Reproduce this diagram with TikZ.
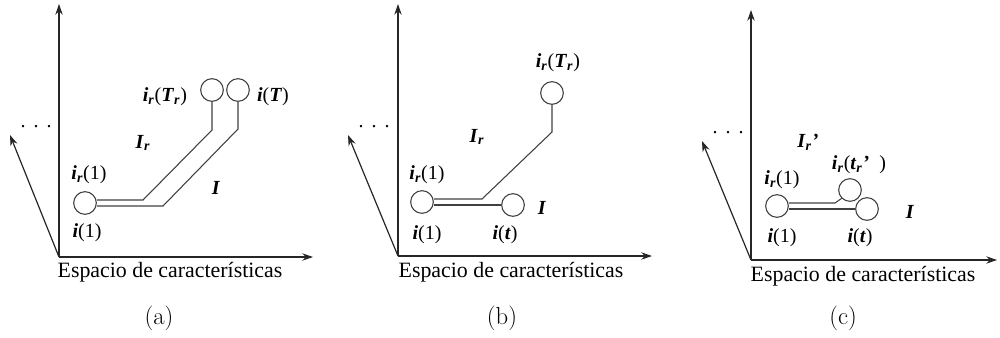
\documentclass[tikz,border=0pt]{standalone}
\usepackage{fontspec}
\newfontfamily\tnr{Liberation Serif}
\usetikzlibrary{arrows.meta,calc}
\newcommand{\bi}[1]{\textbf{\textit{#1}}}
\newcommand{\sbr}{\textsubscript{\bi{r}}}
\tikzset{
  axis/.style={line width=0.9pt, draw=black!85, -{Stealth[length=8pt,width=5.5pt]}},
  pnode/.style={circle, draw=black!75, line width=0.8pt, minimum size=17pt, inner sep=0pt},
  trail/.style={draw=black!75, line width=0.8pt},
  lbl/.style={font=\tnr\fontsize{15}{18}\selectfont, inner sep=0pt},
  captxt/.style={font=\tnr\fontsize{16.4}{20}\selectfont, inner sep=0pt},
  sublbl/.style={font=\fontsize{18.5}{22}\selectfont, inner sep=0pt},
  dotstxt/.style={font=\tnr\fontsize{15}{18}\selectfont, inner sep=0pt}
}
\begin{document}
\begin{tikzpicture}[x=0.75pt,y=-0.75pt]
\useasboundingbox (0,0) rectangle (1000,337);

% ---------- panel (a) ----------
\coordinate (oa) at (59,257);
\coordinate (va) at (59,4);
\coordinate (ha) at (313,257);
\coordinate (da) at (10,135);
\draw[axis] (oa) -- (va);
\draw[axis] (oa) -- (ha);
\draw[axis] (oa) -- (da);
\node[dotstxt] (dotsa) at (36,127) {.\hspace{6pt}.\hspace{6pt}.};
\node[pnode] (ca1) at (85,203) {};
\node[pnode] (car) at (212,90) {};
\node[pnode] (cat) at (238,90) {};
\coordinate (a1) at (143,200);
\coordinate (a2) at (212,130);
\coordinate (a3) at (163,206);
\coordinate (a4) at (238,129);
\draw[trail] ([yshift=2.25pt]ca1.east) -- (a1) -- (a2) -- (car.south);
\draw[trail] ([yshift=-2.25pt]ca1.east) -- (a3) -- (a4) -- (cat.south);
\node[lbl] (la1) at (165,97) {\bi{i}\sbr(\bi{T}\sbr)};
\node[lbl] (la2) at (273,97) {\bi{i}(\bi{T})};
\node[lbl] (la3) at (143,143) {\bi{I}\sbr};
\node[lbl] (la4) at (216,188) {\bi{I}};
\node[lbl] (la5) at (89,175) {\bi{i}\sbr(1)};
\node[lbl] (la6) at (87,233) {\bi{i}(1)};
\node[captxt] (capa) at (170,272) {Espacio de características};
\node[sublbl] (tla) at (159,318) {(a)};

% ---------- panel (b) ----------
\coordinate (ob) at (398,256);
\coordinate (vb) at (398,4);
\coordinate (hb) at (652,256);
\coordinate (db) at (348,135);
\draw[axis] (ob) -- (vb);
\draw[axis] (ob) -- (hb);
\draw[axis] (ob) -- (db);
\node[dotstxt] (dotsb) at (374,127) {.\hspace{6pt}.\hspace{6pt}.};
\node[pnode] (cb1) at (422,202) {};
\node[pnode] (cbt) at (513,205) {};
\node[pnode] (cbr) at (552,93) {};
\coordinate (b1) at (482,199);
\coordinate (b2) at (552,132);
\draw[trail] ([yshift=2.25pt]cb1.east) -- (b1) -- (b2) -- (cbr.south);
\draw[trail] ([yshift=-2.25pt]cb1.east) -- (cbt.west);
\node[lbl] (lb1) at (558,63) {\bi{i}\sbr(\bi{T}\sbr)};
\node[lbl] (lb2) at (477,137) {\bi{I}\sbr};
\node[lbl] (lb3) at (427,175) {\bi{i}\sbr(1)};
\node[lbl] (lb4) at (542,208) {\bi{I}};
\node[lbl] (lb5) at (427,235) {\bi{i}(1)};
\node[lbl] (lb6) at (505,235) {\bi{i}(\bi{t})};
\node[captxt] (capb) at (511,272) {Espacio de características};
\node[sublbl] (tlb) at (502,318) {(b)};

% ---------- panel (c) ----------
\coordinate (oc) at (751,260);
\coordinate (vc) at (751,10);
\coordinate (hc) at (997,260);
\coordinate (dc) at (702,141);
\draw[axis] (oc) -- (vc);
\draw[axis] (oc) -- (hc);
\draw[axis] (oc) -- (dc);
\node[dotstxt] (dotsc) at (728,133) {.\hspace{6pt}.\hspace{6pt}.};
\node[pnode] (cc1) at (777,206) {};
\node[pnode] (cct) at (850,190) {};
\node[pnode] (cci) at (867,209) {};
\coordinate (c1) at (835,203);
\draw[trail] ([yshift=2.25pt]cc1.east) -- (c1) -- (cct.south west);
\draw[trail] ([yshift=-2.25pt]cc1.east) -- (cci.west);
\node[lbl] (lc1) at (808,142) {\bi{I}\sbr\bi{’}};
\node[lbl] (lc2) at (859,165) {\bi{i}\sbr(\bi{t}\sbr\bi{’}\ \ )};
\node[lbl] (lc3) at (782,180) {\bi{i}\sbr(1)};
\node[lbl] (lc4) at (910,212) {\bi{I}};
\node[lbl] (lc5) at (782,238) {\bi{i}(1)};
\node[lbl] (lc6) at (860,238) {\bi{i}(\bi{t})};
\node[captxt] (capc) at (863,276) {Espacio de características};
\node[sublbl] (tlc) at (843,318) {(c)};
\end{tikzpicture}
\end{document}
